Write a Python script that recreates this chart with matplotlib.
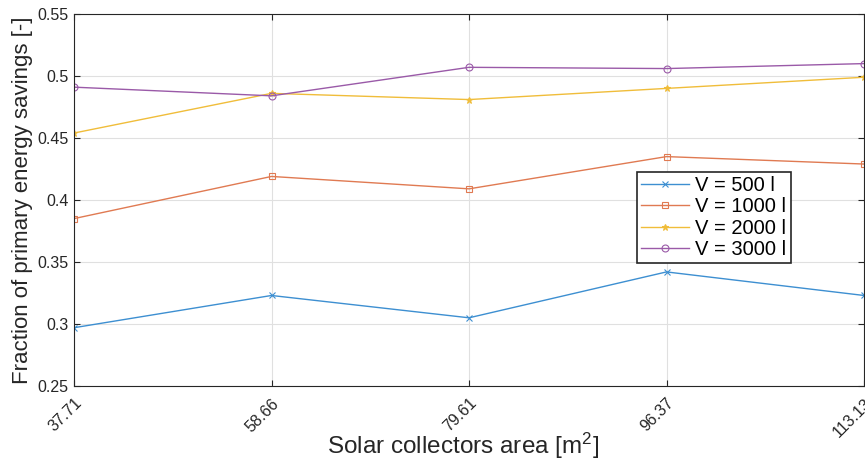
import matplotlib
matplotlib.use("Agg")
import matplotlib.pyplot as plt

areas = ["37.71", "58.66", "79.61", "96.37", "113.13"]
v500 = [0.297, 0.323, 0.305, 0.342, 0.323]
v1000 = [0.385, 0.419, 0.409, 0.435, 0.429]
v2000 = [0.454, 0.486, 0.481, 0.490, 0.499]
v3000 = [0.491, 0.484, 0.507, 0.506, 0.510]
labels = ["V = 500 l", "V = 1000 l", "V = 2000 l", "V = 3000 l"]
yticks = [0.25, 0.3, 0.35, 0.4, 0.45, 0.5, 0.55]

plt.rcParams['font.family'] = ['Liberation Sans', 'DejaVu Sans']
plt.rcParams['mathtext.fontset'] = 'custom'
plt.rcParams['mathtext.rm'] = 'Liberation Sans'

fig = plt.figure(figsize=(8.65, 4.65), dpi=100)
ax = fig.add_axes([74/865, 1-386/465, (864-74)/865, (386-14)/465])

x = list(range(len(areas)))
series = [v500, v1000, v2000, v3000]
colors = ["#3d8fd1", "#e07a52", "#f0bd3a", "#9a5aa8"]
markers = ["x", "s", "*", "o"]
for vals, c, m, lab in zip(series, colors, markers, labels):
    ax.plot(x, vals, color=c, marker=m, markersize=5, markerfacecolor='none' if m in ("s", "o") else c,
            markeredgewidth=0.8, linewidth=1.0, label=lab)

ax.set_xlim(0, len(areas)-1)
ax.set_ylim(0.25, 0.55)
ax.set_xticks(x)
ax.set_xticklabels(areas, rotation=45, fontsize=11.5, color="#262626",
                   ha='right', va='top', rotation_mode='anchor')
ax.set_yticks(yticks)
ax.set_yticklabels([f"{t:g}" for t in yticks], fontsize=11.5, color="#262626")
ax.grid(True, color="#e0e0e0", linewidth=0.8)
ax.set_axisbelow(True)
ax.tick_params(direction='in', length=4, color="#262626", top=True, right=True)
ax.tick_params(axis='x', pad=7)
ax.tick_params(axis='y', pad=4)
for s in ax.spines.values():
    s.set_color("#262626")
    s.set_linewidth(0.8)

ax.set_xlabel("Solar collectors area [m$\\mathregular{^2}$]", fontsize=17.5, color="#262626")
ax.xaxis.label.set_va('baseline')
ax.xaxis.set_label_coords(463.5/865, 1-454/465, transform=fig.transFigure)
ax.set_ylabel("Fraction of primary energy savings [-]", fontsize=16, color="#262626", labelpad=3)

leg = ax.legend(loc='upper left', bbox_to_anchor=((637-74)/790, (386-172)/372), fontsize=14.5,
                frameon=True, fancybox=False, edgecolor="#262626", framealpha=1,
                borderpad=0.2, labelspacing=0.12, handlelength=2.4, handletextpad=0.3, borderaxespad=0)
leg.get_frame().set_linewidth(1.2)

fig.savefig("out.png", dpi=100)
